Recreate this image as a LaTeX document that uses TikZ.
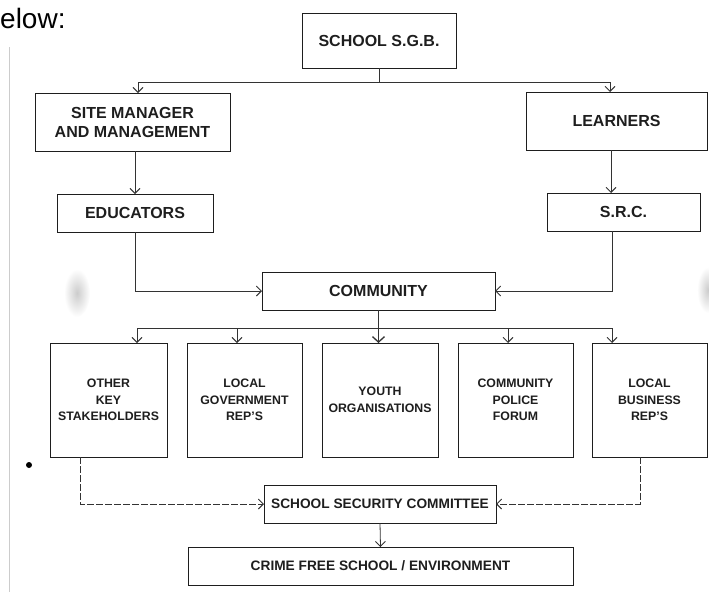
\documentclass[tikz,border=0pt]{standalone}
\usepackage{fontspec}
\setmainfont{Liberation Sans}
\usetikzlibrary{arrows.meta,calc}
\definecolor{ink}{HTML}{1E1E1E}
\definecolor{lineink}{HTML}{333333}
\tikzset{
  box/.style={draw=ink, line width=1pt, rectangle, inner sep=0pt, outer sep=0pt,
    align=center, text=ink, font=\bfseries\fontsize{16}{19}\selectfont},
  smallbox/.style={box, font=\bfseries\fontsize{12.3}{16.5}\selectfont},
  lowbox/.style={box, font=\bfseries\fontsize{13.7}{16}\selectfont},
  conn/.style={draw=lineink, line width=0.8pt},
  tip/.style={-{Straight Barb[length=5pt,width=10pt,line width=0.9pt]}},
  arr/.style={conn, tip},
  bigarr/.style={conn, line width=1pt, -{Straight Barb[length=5.5pt,width=12pt,line width=1.3pt]}},
  dconn/.style={conn, dash pattern=on 7pt off 2pt},
}
\begin{document}
\begin{tikzpicture}[x=1pt,y=-1pt]
\useasboundingbox (0,0) rectangle (709,592);
% scan artefacts
\draw[gray!40, line width=1pt] (9,47) -- (9,592);
\shade[inner color=gray!40, outer color=white] (77,293) ellipse (13 and 24);
\shade[inner color=gray!40, outer color=white] (708,290) ellipse (11 and 23);
\fill[black] (29,465) circle (3);
% partial heading
\node[anchor=base west, inner sep=0pt, font=\fontsize{28}{32}\selectfont, text=black] (hd) at (0,28) {elow:};
% boxes
\node[box, minimum width=154, minimum height=55] (sgb) at (379,40.5) {SCHOOL S.G.B.};
\node[box, minimum width=195, minimum height=58] (site) at (132.5,122) {SITE MANAGER\\AND MANAGEMENT};
\node[box, minimum width=181, minimum height=58] (learn) at (616.5,121) {LEARNERS};
\node[box, minimum width=156, minimum height=38] (edu) at (135,213) {EDUCATORS};
\node[box, minimum width=153, minimum height=38] (src) at (623.5,212) {S.R.C.};
\node[box, minimum width=233, minimum height=38] (comm) at (378.5,291) {COMMUNITY};
\node[smallbox, minimum width=117, minimum height=114] (b1) at (108.5,400) {OTHER\\KEY\\STAKEHOLDERS};
\node[smallbox, minimum width=115, minimum height=114] (b2) at (244.5,400) {LOCAL\\GOVERNMENT\\REP'S};
\node[smallbox, minimum width=116, minimum height=114] (b3) at (380,400) {YOUTH\\ORGANISATIONS};
\node[smallbox, minimum width=115, minimum height=114] (b4) at (515.5,400) {COMMUNITY\\POLICE\\FORUM};
\node[smallbox, minimum width=115, minimum height=114] (b5) at (649.5,400) {LOCAL\\BUSINESS\\REP'S};
\node[lowbox, minimum width=232, minimum height=38] (ssc) at (380,504) {SCHOOL SECURITY COMMITTEE};
\node[lowbox, minimum width=385, minimum height=38] (crime) at (380.5,566) {CRIME FREE SCHOOL / ENVIRONMENT};
% top distribution
\coordinate (hTop) at (379,82);
\draw[conn] (sgb.south) -- (hTop);
\draw[arr] (hTop) -| ([xshift=5.5pt]site.north);
\draw[arr] (hTop) -| ([xshift=-6.5pt]learn.north);
\draw[arr] (site.south -| edu.north) -- (edu.north);
\draw[arr] ([xshift=-5.5pt]learn.south) -- ([xshift=-5.5pt]learn.south |- src.north);
\draw[arr] (edu.south) |- (comm.west);
\draw[arr] ([xshift=-11.5pt]src.south) |- (comm.east);
% community distribution
\coordinate (h1) at (137,328);
\coordinate (h2) at (237,328);
\coordinate (h4) at (508,328);
\coordinate (h5) at (612,328);
\draw[conn] (h1) -- (h5);
\draw[arr] (h1) -- (h1 |- b1.north);
\draw[arr] (h2) -- (h2 |- b2.north);
\draw[arr] (h4) -- (h4 |- b4.north);
\draw[arr] (h5) -- (h5 |- b5.north);
\draw[bigarr] (comm.south) -- (comm.south |- b3.north);
% into security committee
\draw[dconn, tip] ([xshift=-28.5pt]b1.south) |- (ssc.west);
\draw[dconn, tip] ([xshift=-9.5pt]b5.south) |- (ssc.east);
\draw[arr] (ssc.south) -- (crime.north);
\end{tikzpicture}
\end{document}
